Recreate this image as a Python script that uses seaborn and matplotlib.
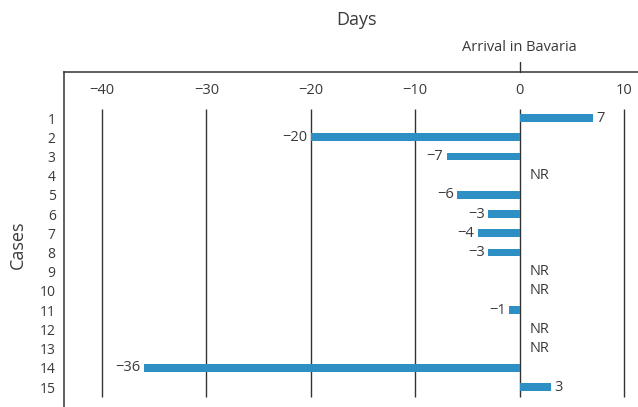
import numpy as np
import pandas as pd
import matplotlib
matplotlib.use("Agg")
import matplotlib.pyplot as plt
import matplotlib.transforms as mtransforms
import seaborn as sns

cases = [str(i) for i in range(1, 16)]
days = [7, -20, -7, np.nan, -6, -3, -4, -3, np.nan, np.nan, -1, np.nan, np.nan, -36, 3]
xticks = [-40, -30, -20, -10, 0, 10]

sns.set_style("white")
plt.rcParams['font.family'] = ['Open Sans', 'DejaVu Sans']
TXT = "#3a3a3a"
BAR = "#2e8fc4"
FS = 10.5

df = pd.DataFrame({"case": cases, "days": days})

fig = plt.figure(figsize=(6.38, 4.07), dpi=100)
ax = fig.add_axes([64/638, 0, 1 - 64/638, 1 - 72/407])

sns.barplot(data=df, x="days", y="case", order=cases, orient="h",
            color=BAR, saturation=1, width=0.4, linewidth=0, ax=ax, zorder=3)

# vertical grid lines
ax.vlines(xticks, -0.47, 14.52, colors="#333333", linewidth=1.0, zorder=2)

ax.set_xlim(-43.65, 11.34)
ax.set_ylim(15.04, -2.396)

ax.xaxis.set_ticks_position('top')
ax.set_xticks(xticks)
ax.set_xticklabels([f"{t}".replace("-", "\u2212") for t in xticks])
ax.tick_params(axis='x', length=0, pad=-19, labelsize=FS, labelcolor=TXT)
ax.tick_params(axis='y', length=0, pad=6, labelsize=FS - 0.5, labelcolor=TXT)
ax.set_xlabel("")
ax.set_ylabel("")

for s in ["bottom", "right"]:
    ax.spines[s].set_visible(False)
for s in ["top", "left"]:
    ax.spines[s].set_color("#333333")
    ax.spines[s].set_linewidth(1.1)

# value labels
for i, v in enumerate(days):
    if np.isnan(v):
        ax.annotate("NR", (0, i), xytext=(7, 0), textcoords="offset points",
                    ha="left", va="center", fontsize=FS, color=TXT)
    elif v > 0:
        ax.annotate(f"{int(v)}", (v, i), xytext=(2.5, 0), textcoords="offset points",
                    ha="left", va="center", fontsize=FS, color=TXT)
    else:
        ax.annotate(f"{int(v)}".replace("-", "\u2212"), (v, i), xytext=(-2.5, 0),
                    textcoords="offset points", ha="right", va="center",
                    fontsize=FS, color=TXT)

# arrival marker
trans = mtransforms.blended_transform_factory(ax.transData, ax.transAxes)
ax.plot([0, 0], [1.0, 1.03], transform=trans, color="#333333", lw=1.0, clip_on=False)
ax.text(0, 1.05, "Arrival in Bavaria", transform=trans, ha="center", va="bottom",
        fontsize=FS, color=TXT)

fig.text(357/638, 1 - 20/407, "Days", ha="center", va="center", fontsize=13, color=TXT)
fig.text(18/638, 1 - 245/407, "Cases", ha="center", va="center", rotation=90,
         fontsize=13, color=TXT)

fig.savefig("out.png", dpi=100)
